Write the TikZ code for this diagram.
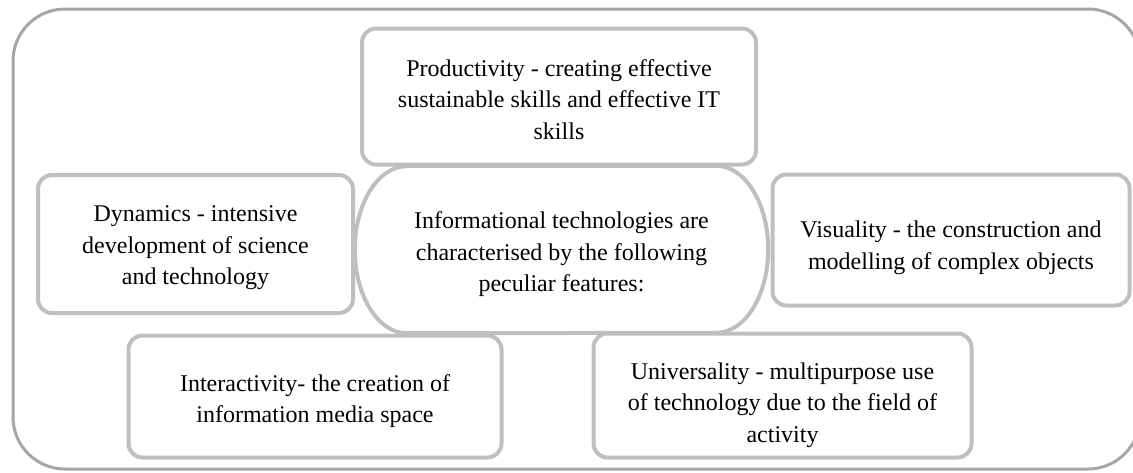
\documentclass[tikz,border=0pt]{standalone}
\usepackage{fontspec}
\setmainfont{Liberation Serif}
\definecolor{boxgray}{HTML}{BFBFBF}
\definecolor{framegray}{HTML}{A6A6A6}
\newcommand\topstrut[1]{\rule{0pt}{#1}}
\begin{document}
\begin{tikzpicture}[x=1pt,y=-1pt,
  feat/.style={draw=boxgray, fill=white, line width=4pt, rounded corners=14pt,
    align=center, inner sep=0pt, font=\fontsize{24}{31.5}\selectfont},
  hub/.style={align=center, inner sep=0pt, font=\fontsize{24}{31.5}\selectfont},
  outline/.style={draw=boxgray, line width=4pt}]
\useasboundingbox (0,0) rectangle (1133,472);
\begin{scope}
\clip (0,0) rectangle (1133,472);
\draw[framegray, line width=3pt, rounded corners=52pt] (13,9) rectangle (1140,469);
\end{scope}
% centre stadium
\node[hub, minimum width=413pt, minimum height=167pt] (c) at (561.5,249.5)
  {\topstrut{26.6pt}Informational technologies are\\characterised by the following\\peculiar features:};
\draw[outline] ([xshift=52pt]c.north west) -- ([xshift=-52pt]c.north east)
  arc[start angle=90, end angle=-90, x radius=52pt, y radius=83.5pt]
  -- ([xshift=52pt]c.south west)
  arc[start angle=270, end angle=90, x radius=52pt, y radius=83.5pt] -- cycle;
\node[feat, minimum width=394pt, minimum height=136pt] (prod) at (559,96.5)
  {\topstrut{22.6pt}Productivity - creating effective\\sustainable skills and effective IT\\skills};
\node[feat, minimum width=315pt, minimum height=138pt] (dyn) at (195.5,244)
  {\topstrut{23.6pt}Dynamics - intensive\\development of science\\and technology};
\node[feat, minimum width=357pt, minimum height=131pt] (vis) at (951,240)
  {\topstrut{32.6pt}Visuality - the construction and\\modelling of complex objects};
\node[feat, minimum width=373pt, minimum height=122pt] (inter) at (315,396.5)
  {\topstrut{25.6pt}Interactivity- the creation of\\information media space};
\node[feat, minimum width=378pt, minimum height=124pt] (uni) at (782.5,395.5)
  {\topstrut{35.6pt}Universality - multipurpose use\\of technology due to the field of\\activity};
\end{tikzpicture}
\end{document}
